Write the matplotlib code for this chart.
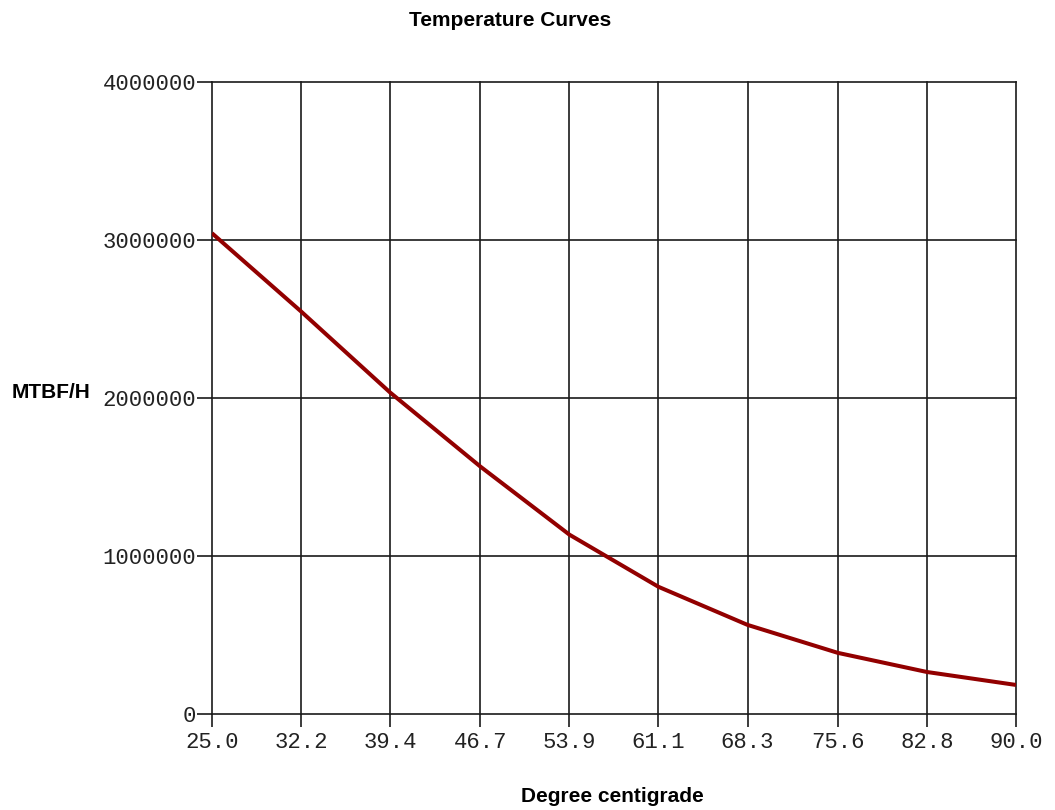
import matplotlib
matplotlib.use("Agg")
import matplotlib.pyplot as plt

# temperature (degree centigrade) vs MTBF in hours, read at each grid line
temps = [25.0, 32.2, 39.4, 46.7, 53.9, 61.1, 68.3, 75.6, 82.8, 90.0]
mtbf = [3043000, 2548000, 2035000, 1566000, 1135000, 805000, 564000, 387000, 266000, 184000]
tick_labels = ["25.0", "32.2", "39.4", "46.7", "53.9", "61.1", "68.3", "75.6", "82.8", "90.0"]
y_ticks = [0, 1000000, 2000000, 3000000, 4000000]

fig = plt.figure(figsize=(10.55, 8.10), dpi=100)
ax = fig.add_axes([0.2009, 0.1185, 0.7621, 0.7803])

ax.plot(temps, mtbf, color="#920000", linewidth=2.9, solid_capstyle="butt", zorder=3)

ax.set_xlim(temps[0], temps[-1])
ax.set_ylim(0, 4000000)
ax.set_xticks(temps)
ax.set_xticklabels(tick_labels)
ax.set_yticks(y_ticks)
ax.set_yticklabels([str(v) for v in y_ticks])

grid_col = "#1a1a1a"
ax.grid(True, color=grid_col, linewidth=1.2)
for gl in ax.get_xgridlines() + ax.get_ygridlines():
    gl.set_clip_on(False)
for s in ax.spines.values():
    s.set_visible(False)
ax.tick_params(axis="x", length=9.4, width=1.2, color=grid_col, pad=3.6)
ax.tick_params(axis="y", length=10.8, width=1.2, color=grid_col, pad=0.5)
for lab in ax.get_xticklabels() + ax.get_yticklabels():
    lab.set_fontfamily("Liberation Mono")
    lab.set_fontsize(16)
    lab.set_color("#222222")

fig.text(510 / 1055, 1 - 20 / 810, "Temperature Curves", ha="center", va="center",
         fontsize=15, fontweight="bold", family="Liberation Sans")
fig.text(12 / 1055, 1 - 393 / 810, "MTBF/H", ha="left", va="center",
         fontsize=15, fontweight="bold", family="Liberation Sans")
fig.text(612 / 1055, 1 - 797 / 810, "Degree centigrade", ha="center", va="center",
         fontsize=15, fontweight="bold", family="Liberation Sans")

fig.savefig("out.png", dpi=100, facecolor="white")
